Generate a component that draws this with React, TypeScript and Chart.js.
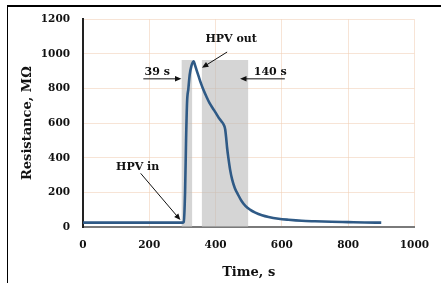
import React, { useEffect, useRef } from "react";
import { Chart, registerables } from "chart.js";

Chart.register(...registerables);

// Resistance curve (time in s, resistance in MΩ)
const timeS = [0, 100, 200, 300, 304, 308, 311, 314, 318, 322, 327, 334, 338, 343, 349, 356, 364, 372, 382, 392, 402, 410, 418, 425, 429, 432, 435, 439, 444, 450, 458, 467, 478, 490, 505, 520, 540, 560, 590, 620, 660, 700, 750, 800, 850, 900];
const resistance = [25, 25, 25, 25, 30, 200, 500, 720, 800, 880, 930, 958, 935, 905, 870, 830, 790, 755, 715, 685, 655, 630, 610, 590, 565, 515, 455, 395, 330, 275, 225, 190, 152, 122, 99, 83, 68, 58, 48, 42, 36, 33, 30, 28, 26, 25];

// Shaded time windows [start, end] and their height
const windowStart = [297, 358];
const windowEnd = [330, 499];
const windowTop = 965;

const xTicks = [0, 200, 400, 600, 800, 1000];
const yTicks = [0, 200, 400, 600, 800, 1000, 1200];

// Annotations in data coordinates
const labelText = ["HPV out", "39 s", "140 s", "HPV in"];
const labelX = [447, 224, 565, 165];
const labelY = [1086, 897, 897, 345];
const arrowFromX = [435, 182, 609, 174];
const arrowFromY = [1011, 856, 856, 310];
const arrowToX = [359, 297, 474, 294];
const arrowToY = [920, 856, 856, 40];

const FONT = "'DejaVu Serif', serif";

export default function App() {
  const ref = useRef<HTMLCanvasElement | null>(null);

  useEffect(() => {
    const canvas = ref.current;
    if (!canvas) return;

    const annotationPlugin = {
      id: "annots",
      afterDatasetsDraw(chart: any) {
        const { ctx, scales } = chart;
        const xs = scales.x;
        const ys = scales.y;
        ctx.save();
        ctx.fillStyle = "#111";
        ctx.strokeStyle = "#111";
        ctx.font = `bold 11px ${FONT}`;
        ctx.textAlign = "center";
        ctx.textBaseline = "middle";
        for (let i = 0; i < labelText.length; i++) {
          ctx.fillText(labelText[i], xs.getPixelForValue(labelX[i]), ys.getPixelForValue(labelY[i]));
          const x1 = xs.getPixelForValue(arrowFromX[i]);
          const y1 = ys.getPixelForValue(arrowFromY[i]);
          const x2 = xs.getPixelForValue(arrowToX[i]);
          const y2 = ys.getPixelForValue(arrowToY[i]);
          const ang = Math.atan2(y2 - y1, x2 - x1);
          const head = 7;
          ctx.lineWidth = 1;
          ctx.beginPath();
          ctx.moveTo(x1, y1);
          ctx.lineTo(x2 - Math.cos(ang) * head * 0.8, y2 - Math.sin(ang) * head * 0.8);
          ctx.stroke();
          ctx.beginPath();
          ctx.moveTo(x2, y2);
          ctx.lineTo(x2 - head * Math.cos(ang - 0.4), y2 - head * Math.sin(ang - 0.4));
          ctx.lineTo(x2 - head * Math.cos(ang + 0.4), y2 - head * Math.sin(ang + 0.4));
          ctx.closePath();
          ctx.fill();
        }
        ctx.restore();
      },
    };

    const boxes = windowStart.map((s, i) => ({
      data: [
        { x: s, y: windowTop },
        { x: windowEnd[i], y: windowTop },
      ],
      borderWidth: 0,
      pointRadius: 0,
      backgroundColor: "rgba(185,185,185,0.6)",
      fill: "origin",
      order: 2,
    }));

    const chart = new Chart(canvas, {
      type: "line",
      data: {
        datasets: [
          {
            data: timeS.map((t, i) => ({ x: t, y: resistance[i] })),
            borderColor: "#2f5a86",
            borderWidth: 2.6,
            pointRadius: 0,
            fill: false,
            tension: 0.3,
            cubicInterpolationMode: "monotone",
            order: 0,
          } as any,
          ...boxes,
        ],
      },
      options: {
        animation: false,
        responsive: false,
        devicePixelRatio: 1,
        layout: { padding: { left: 0, right: 18, top: 19, bottom: 0 } },
        plugins: { legend: { display: false }, tooltip: { enabled: false } },
        scales: {
          x: {
            type: "linear",
            min: 0,
            max: 1000,
            afterFit: (s: any) => {
              s.height = 56;
            },
            afterBuildTicks: (s: any) => {
              s.ticks = xTicks.map((v) => ({ value: v }));
            },
            ticks: {
              color: "#111",
              padding: 12,
              font: { family: FONT, weight: "bold", size: 10.5 },
              callback: (v: any) => String(v),
            },
            grid: { color: "rgba(240,205,180,0.55)", drawTicks: false },
            border: { color: "#7a7a7a", width: 2 },
            title: {
              display: true,
              text: "Time, s",
              color: "#111",
              font: { family: FONT, weight: "bold", size: 13 },
              padding: { top: 0, bottom: 3 },
            },
          },
          y: {
            min: 0,
            max: 1200,
            afterFit: (s: any) => {
              s.width = 83;
            },
            afterBuildTicks: (s: any) => {
              s.ticks = yTicks.map((v) => ({ value: v }));
            },
            ticks: {
              color: "#111",
              padding: 13,
              font: { family: FONT, weight: "bold", size: 10.5 },
              callback: (v: any) => String(v),
            },
            grid: { color: "rgba(240,205,180,0.55)", drawTicks: false },
            border: { color: "#222", width: 2 },
            title: {
              display: true,
              text: "Resistance, MΩ",
              color: "#111",
              font: { family: FONT, weight: "bold", size: 13 },
              padding: { top: 20, bottom: 0 },
            },
          },
        },
      },
      plugins: [annotationPlugin],
    });

    return () => chart.destroy();
  }, []);

  return (
    <div
      style={{
        position: "fixed",
        left: 0,
        top: 0,
        width: 441,
        height: 283,
        background: "#fff",
        overflow: "hidden",
      }}
    >
      <div
        style={{
          position: "absolute",
          left: 7,
          top: 5,
          width: 450,
          height: 300,
          borderLeft: "1.5px solid #000",
          borderTop: "2px solid #000",
        }}
      />
      <canvas
        ref={ref}
        width={441}
        height={283}
        style={{ position: "absolute", left: 0, top: 0, width: 441, height: 283 }}
      />
    </div>
  );
}
